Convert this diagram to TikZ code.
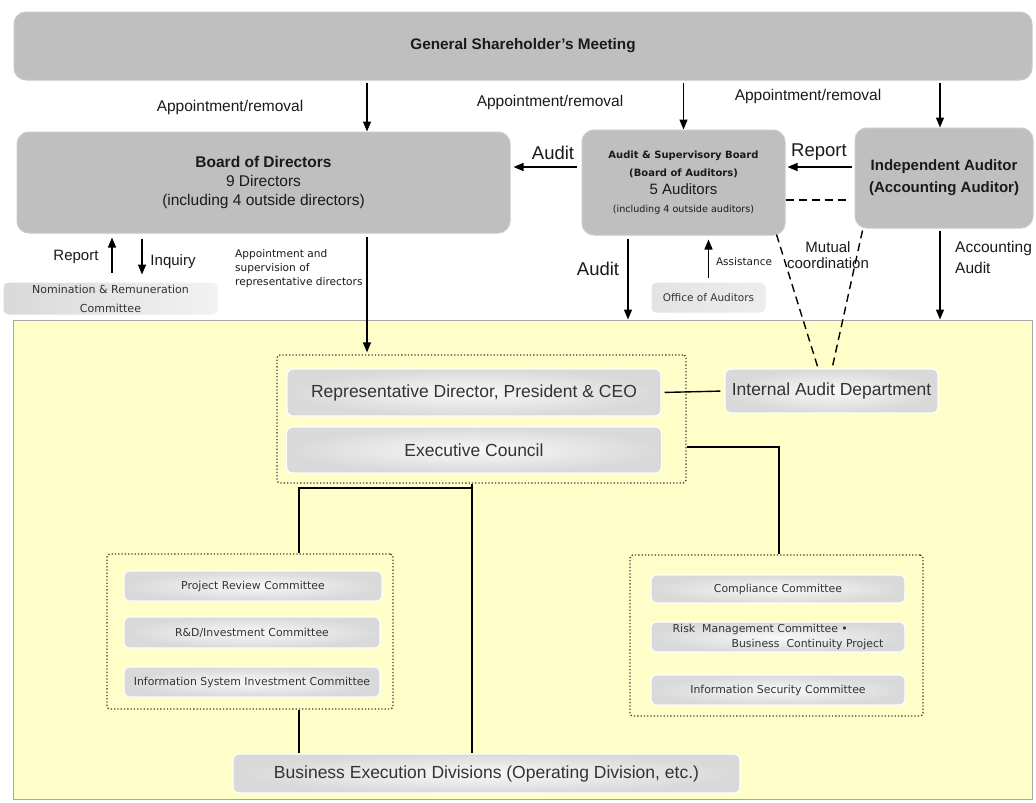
\documentclass[tikz,border=0pt]{standalone}
\usepackage{fontspec}
\setmainfont{Liberation Sans}
\newfontfamily\dv{DejaVu Sans}
\usetikzlibrary{arrows.meta,calc}
\newcommand{\fsz}[2]{\fontsize{#1}{#2}\selectfont}
\definecolor{topgray}{HTML}{BFBFBF}
\definecolor{yel}{HTML}{FFFDC8}
\definecolor{txt}{HTML}{1A1A1A}
\tikzset{
 topbox/.style={fill=topgray, draw=topgray!85!white, line width=1pt, rounded corners=12pt, align=center, inner sep=0pt, text=txt},
 lowbox/.style={inner color=gray!5, outer color=gray!30, draw=white, line width=1.2pt, rounded corners=6pt, align=center, inner sep=0pt, text=black!80, font=\fsz{17.5}{20}},
 combox/.style={lowbox, font=\dv\fsz{10.9}{15}, rounded corners=5pt},
 smallbox/.style={left color=gray!30, right color=gray!10, draw=white, line width=1pt, rounded corners=5pt, align=center, inner sep=0pt, text=black!80},
 grpbox/.style={draw=black!75, dotted, line width=1.3pt, rounded corners=3pt, inner sep=0pt},
 arr/.style={-{Triangle[length=10pt,width=8pt]}, line width=1.4pt},
 conn/.style={line width=1.4pt},
 dsh/.style={line width=1.4pt, dash pattern=on 8pt off 5pt},
 lbl/.style={inner sep=0pt, text=txt, align=center},
}
\begin{document}
\begin{tikzpicture}[x=1pt,y=-1pt]
\useasboundingbox (0,0) rectangle (1036,803);
\fill[white] (0,0) rectangle (1036,803);

% top level
\node[topbox, minimum width=1018pt, minimum height=68pt, font=\bfseries\fsz{15.3}{18}] (gsm) at (523,46) {General Shareholder’s Meeting};
\node[topbox, minimum width=493pt, minimum height=101pt, font=\fsz{15.5}{19}] (board) at (263.5,182.5)
  {\textbf{Board of Directors}\\9 Directors\\(including 4 outside directors)};
\node[topbox, minimum width=203pt, minimum height=105pt, font=\fsz{10}{18}] (asb) at (683.5,182.5)
  {{\dv\bfseries\fsz{10}{18}Audit \&\ Supervisory Board}\\{\dv\bfseries\fsz{10}{18}(Board of Auditors)}\\{\fsz{15}{18}5 Auditors}\\{\dv\fsz{9.6}{18}(including 4 outside auditors)}};
\node[topbox, minimum width=178pt, minimum height=100pt, font=\bfseries\fsz{15}{22}] (ind) at (944,178)
  {Independent Auditor\\(Accounting Auditor)};

\node[smallbox, minimum width=215pt, minimum height=33pt, font=\dv\fsz{11}{19}] (nom) at (110.5,298.5)
  {Nomination \& Remuneration\\Committee};
\node[smallbox, left color=gray!22, right color=gray!14, minimum width=115pt, minimum height=31pt, font=\dv\fsz{10.5}{13}] (office) at (708.5,297.5) {Office of Auditors};

% yellow area
\node[fill=yel, draw=gray!70, line width=1pt, minimum width=1019pt, minimum height=479pt, inner sep=0pt] (area) at (522.5,559.5) {};

% executive group
\node[grpbox, minimum width=409pt, minimum height=128pt] (grp1) at (481.5,419) {};
\node[lowbox, minimum width=374pt, minimum height=47pt] (ceo) at (474,392.5) {Representative Director, President \& CEO};
\node[lowbox, minimum width=375pt, minimum height=46pt] (exec) at (474,450) {Executive Council};
\node[lowbox, minimum width=213pt, minimum height=44pt] (ia) at (831.5,391) {Internal Audit Department};

% left committees
\node[grpbox, minimum width=286pt, minimum height=155pt] (grpL) at (250,631.5) {};
\node[combox, minimum width=258pt, minimum height=30pt] (prc) at (253,586) {Project Review Committee};
\node[combox, minimum width=256pt, minimum height=31pt] (rdi) at (252,632.5) {R\&D/Investment Committee};
\node[combox, minimum width=256pt, minimum height=30pt] (isi) at (252,682) {Information System Investment Committee};

% right committees
\node[grpbox, minimum width=293pt, minimum height=161pt] (grpR) at (776.5,635.5) {};
\node[combox, minimum width=254pt, minimum height=28pt] (comp) at (778,589) {Compliance Committee};
\node[combox, minimum width=254pt, minimum height=30pt, align=left, font=\dv\fsz{10.9}{15.5}] (risk) at (778,637)
  {Risk\ \ Management Committee \textbullet\\\hspace*{5.4em}Business\ \ Continuity Project};
\node[combox, minimum width=254pt, minimum height=30pt] (iss) at (778,690) {Information Security Committee};

\node[lowbox, minimum width=507pt, minimum height=39pt] (bed) at (486.5,773.5) {Business Execution Divisions (Operating Division, etc.)};

% helper coordinates
\coordinate (xa) at (367,0);
\coordinate (xc) at (940,0);
\coordinate (xb) at (628,0);
\coordinate (xr) at (112,0);
\coordinate (xq) at (142,0);
\coordinate (ya) at (0,167);
\coordinate (yd) at (0,200);
\coordinate (yex) at (0,447);
\coordinate (xe) at (779,0);
\coordinate (xm) at (472,488);
\coordinate (jl) at (299,488);

% arrows from GSM
\draw[arr, shorten <=2pt] (gsm.south -| xa) -- (board.north -| xa);
\draw[arr, shorten <=2pt] (gsm.south -| asb.north) -- (asb.north);
\draw[arr, shorten <=2pt] (gsm.south -| xc) -- (ind.north -| xc);

% audit / report
\draw[arr, shorten <=5pt, shorten >=3pt] (asb.west |- ya) -- (board.east |- ya);
\draw[arr, shorten <=3pt, shorten >=2pt] (ind.west |- ya) -- (asb.east |- ya);
\draw[dsh, shorten >=7pt] (asb.east |- yd) -- (ind.west |- yd);

% board relations
\draw[arr, shorten <=9pt, shorten >=4pt] (nom.north -| xr) -- (board.south -| xr);
\draw[arr, shorten <=5pt, shorten >=7pt] (board.south -| xq) -- (nom.north -| xq);
\draw[arr, shorten <=3pt, shorten >=2pt] (board.south -| xa) -- (grp1.north -| xa);

% auditors
\draw[arr, shorten <=3pt] (asb.south -| xb) -- (area.north -| xb);
\draw[arr, shorten <=4pt, shorten >=4pt] (office.north) -- (asb.south -| office.north);
\draw[arr, shorten <=2pt] (ind.south -| xc) -- (area.north -| xc);

% mutual coordination
\draw[dsh] ([xshift=-9pt,yshift=1pt]asb.south east) -- ([xshift=-14pt,yshift=2pt]ia.north);
\draw[dsh] ([xshift=8pt,yshift=-2pt]ind.south west) -- ([xshift=1pt,yshift=2pt]ia.north);

% internal lines
\draw[conn, shorten <=3pt, shorten >=4pt] (ceo.east) -- (ia.west);
\draw[conn] (grp1.east |- yex) -- (xe |- yex) -- (grpR.north -| xe);
\draw[conn] (grp1.south -| xm) -- (bed.north -| xm);
\draw[conn] (xm) -- (jl) -- (grpL.north -| jl);
\draw[conn] (grpL.south -| jl) -- (bed.north -| jl);

% labels
\node[lbl, font=\fsz{15.5}{18}] (l1) at (230,107) {Appointment/removal};
\node[lbl, font=\fsz{15.5}{18}] (l2) at (550,102) {Appointment/removal};
\node[lbl, font=\fsz{15.5}{18}] (l3) at (808,96) {Appointment/removal};
\node[lbl, font=\fsz{18.5}{20}] (l4) at (553,153) {Audit};
\node[lbl, font=\fsz{18.5}{20}] (l5) at (819,152) {Report};
\node[lbl, font=\fsz{15}{18}] (l6) at (76,257) {Report};
\node[lbl, font=\fsz{15}{18}] (l7) at (173,262) {Inquiry};
\node[lbl, anchor=west, align=left, font=\dv\fsz{10.6}{14}] (l8) at (235,269) {Appointment and\\supervision of\\representative directors};
\node[lbl, font=\fsz{18.5}{20}] (l9) at (598,269) {Audit};
\node[lbl, font=\dv\fsz{10.5}{13}] (l10) at (744,262) {Assistance};
\node[lbl, font=\fsz{15}{16.5}] (l11) at (828,255) {Mutual\\coordination};
\node[lbl, anchor=west, align=left, font=\fsz{15.5}{20.5}] (l12) at (955,257.5) {Accounting\\Audit};
\end{tikzpicture}
\end{document}
